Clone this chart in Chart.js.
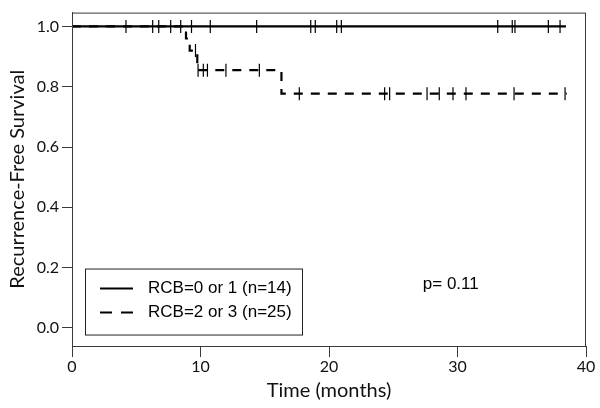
<!DOCTYPE html>
<html>
<head>
<meta charset="utf-8">
<script src="https://cdn.jsdelivr.net/npm/chart.js@4.4.1/dist/chart.umd.min.js"></script>
<style>
html,body{margin:0;padding:0;background:#fff;}
#wrap{width:600px;height:408px;position:relative;}
</style>
</head>
<body>
<div id="wrap"><canvas id="c" width="600" height="408"></canvas></div>
<script>
// Kaplan-Meier step curves (time in months, survival)
const group1Label = 'RCB=0 or 1 (n=14)';
const group2Label = 'RCB=2 or 3 (n=25)';
const group1Times = [0, 38.44];
const group1Surv = [1, 1];
const group2Times = [0, 8.87, 9.16, 9.75, 16.3, 38.5];
const group2Surv = [1, 0.96, 0.92, 0.855, 0.777, 0.777];
// censored observations
const group1CensorTimes = [4.2, 6.28, 6.75, 7.68, 8.46, 9.3, 10.76, 14.37, 18.58, 18.93, 20.6, 20.96, 33.13, 34.26, 34.47, 37.07, 37.98];
const group1CensorSurv = group1CensorTimes.map(() => 1);
const group2CensorTimes = [9.61, 9.81, 10.22, 10.54, 11.98, 14.58, 17.69, 24.33, 24.72, 27.63, 28.58, 29.65, 30.66, 34.4, 38.37];
const group2CensorSurv = [0.92, 0.855, 0.855, 0.855, 0.855, 0.855, 0.777, 0.777, 0.777, 0.777, 0.777, 0.777, 0.777, 0.777, 0.777];
const xTicks = [0, 10, 20, 30, 40];
const yTicks = [0, 0.2, 0.4, 0.6, 0.8, 1.0];
const pValueText = 'p= 0.11';
const xTitle = 'Time (months)';
const yTitle = 'Recurrence-Free Survival';

const pts = (xs, ys) => xs.map((x, i) => ({x: x, y: ys[i]}));

const axisColor = '#3a3a3a';
const tickFont = {family: 'Lato', size: 16};
const titleFont = {family: 'Lato', size: 20};

const overlay = {
  id: 'overlay',
  afterDatasetsDraw(chart) {
    const ctx = chart.ctx, a = chart.chartArea;
    const xs = chart.scales.x, ys = chart.scales.y;
    ctx.save();
    // frame
    ctx.strokeStyle = axisColor; ctx.lineWidth = 1;
    ctx.strokeRect(a.left + 0.5, a.top + 0.5, a.right - a.left - 1, a.bottom - a.top);
    // legend box
    const bx = a.left + 13, by = ys.getPixelForValue(0.197), bw = 217, bh = 66;
    ctx.fillStyle = '#fff';
    ctx.fillRect(bx, by, bw, bh);
    ctx.strokeStyle = '#222'; ctx.lineWidth = 1;
    ctx.strokeRect(bx + 0.5, by + 0.5, bw, bh);
    ctx.strokeStyle = '#000'; ctx.lineWidth = 2;
    const l1y = by + 20, l2y = by + 44;
    ctx.beginPath(); ctx.moveTo(bx + 15, l1y); ctx.lineTo(bx + 48, l1y); ctx.stroke();
    ctx.setLineDash([12, 9]);
    ctx.beginPath(); ctx.moveTo(bx + 15, l2y); ctx.lineTo(bx + 48, l2y); ctx.stroke();
    ctx.setLineDash([]);
    ctx.fillStyle = '#000';
    ctx.font = '17px "Liberation Sans", Arial, sans-serif';
    ctx.textBaseline = 'middle'; ctx.textAlign = 'left';
    ctx.fillText(group1Label, bx + 63, l1y);
    ctx.fillText(group2Label, bx + 63, l2y);
    // p-value
    ctx.font = '17px "Liberation Sans", Arial, sans-serif';
    ctx.fillText(pValueText, xs.getPixelForValue(27.3), ys.getPixelForValue(0.145));
    ctx.restore();
  }
};

new Chart(document.getElementById('c'), {
  type: 'line',
  data: {
    datasets: [
      {label: group1Label, data: pts(group1Times, group1Surv), stepped: true, borderColor: '#000', borderWidth: 2.2, pointRadius: 0, fill: false},
      {label: group2Label, data: pts(group2Times, group2Surv), stepped: true, borderColor: '#000', borderWidth: 2.2, borderDash: [9, 8], pointRadius: 0, fill: false},
      {label: 'censor1', data: pts(group1CensorTimes, group1CensorSurv), showLine: false, pointStyle: 'line', rotation: 90, pointRadius: 6.5, pointBorderWidth: 1.2, borderColor: '#000', pointBorderColor: '#000'},
      {label: 'censor2', data: pts(group2CensorTimes, group2CensorSurv), showLine: false, pointStyle: 'line', rotation: 90, pointRadius: 6.5, pointBorderWidth: 1.2, borderColor: '#000', pointBorderColor: '#000'}
    ]
  },
  options: {
    responsive: false,
    animation: false,
    events: [],
    layout: {padding: {left: 0, right: 14, top: 10, bottom: 0}},
    plugins: {legend: {display: false}, tooltip: {enabled: false}},
    scales: {
      x: {
        type: 'linear', min: 0, max: 40,
        afterBuildTicks: s => { s.ticks = xTicks.map(v => ({value: v})); },
        afterFit: s => { s.height = 62; },
        grid: {display: true, drawOnChartArea: false, drawTicks: true, tickLength: 11, color: axisColor},
        border: {display: true, color: axisColor, width: 1},
        ticks: {font: tickFont, color: '#111', padding: 0, maxRotation: 0},
        title: {display: true, text: xTitle, font: titleFont, color: '#111', padding: {top: 0, bottom: 5}}
      },
      y: {
        type: 'linear', min: -0.06, max: 1.046,
        afterBuildTicks: s => { s.ticks = yTicks.map(v => ({value: v})); },
        afterFit: s => { s.width = 72; },
        grid: {display: true, drawOnChartArea: false, drawTicks: true, tickLength: 10, color: axisColor},
        border: {display: true, color: axisColor, width: 1},
        ticks: {font: tickFont, color: '#111', padding: 3, callback: v => Number(v).toFixed(1)},
        title: {display: true, text: yTitle, font: titleFont, color: '#111', padding: {top: 6, bottom: 0}}
      }
    }
  },
  plugins: [overlay]
});
</script>
</body>
</html>
